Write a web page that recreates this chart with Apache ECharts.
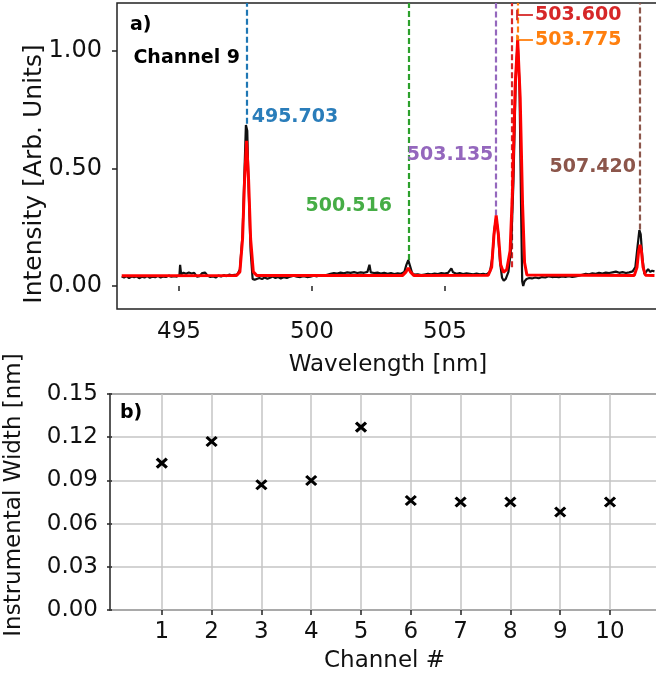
<!DOCTYPE html>
<html>
<head>
<meta charset="utf-8">
<script src="https://cdn.jsdelivr.net/npm/echarts@6/dist/echarts.min.js"></script>
<style>
html,body{margin:0;padding:0;background:#fff;}
#chart{width:656px;height:677px;}
</style>
</head>
<body>
<div id="chart"></div>
<script>
// ---------------- data ----------------
// measured spectrum (Channel 9)
const wlMeasured = [491.98,492.05,492.12,492.20,492.28,492.35,492.43,492.50,492.58,492.66,492.74,492.82,492.90,492.98,493.06,493.14,493.22,493.30,493.38,493.46,493.54,493.62,493.70,493.72,493.75,493.82,493.90,493.98,494.06,494.14,494.22,494.30,494.38,494.46,494.54,494.62,494.70,494.78,494.86,494.94,495.02,495.10,495.18,495.26,495.34,495.42,495.50,495.58,495.64,495.68,495.72,495.76,495.82,495.88,495.94,496.00,496.08,496.16,496.24,496.32,496.40,496.48,496.56,496.64,496.72,496.80,496.90,497.00,497.10,497.20,497.30,497.40,497.50,497.60,497.70,497.80,497.90,498.00,498.10,498.20,498.30,498.40,498.50,498.60,498.70,498.80,498.90,499.00,499.10,499.20,499.30,499.36,499.40,499.50,499.60,499.70,499.80,499.90,500.00,500.10,500.20,500.30,500.40,500.46,500.516,500.57,500.63,500.70,500.80,500.90,501.00,501.10,501.20,501.30,501.40,501.50,501.60,501.70,501.80,501.85,501.95,502.05,502.15,502.25,502.35,502.45,502.55,502.65,502.75,502.85,502.95,503.02,503.08,503.135,503.19,503.25,503.31,503.36,503.42,503.50,503.58,503.65,503.72,503.775,503.83,503.88,503.91,503.94,503.98,504.04,504.12,504.20,504.30,504.40,504.50,504.60,504.70,504.80,504.90,505.00,505.10,505.20,505.30,505.40,505.50,505.60,505.70,505.80,505.90,506.00,506.10,506.20,506.30,506.40,506.50,506.60,506.70,506.80,506.90,507.00,507.10,507.20,507.28,507.34,507.40,507.44,507.49,507.55,507.60,507.66,507.72,507.78,507.85];
const intMeasured = [0.040,0.036,0.042,0.034,0.040,0.037,0.041,0.033,0.039,0.036,0.042,0.035,0.040,0.037,0.043,0.036,0.040,0.038,0.044,0.039,0.042,0.040,0.046,0.090,0.050,0.056,0.052,0.057,0.053,0.056,0.040,0.042,0.055,0.057,0.044,0.038,0.041,0.036,0.044,0.040,0.046,0.042,0.048,0.045,0.047,0.048,0.070,0.220,0.500,0.685,0.660,0.420,0.150,0.030,0.026,0.030,0.034,0.030,0.036,0.031,0.035,0.040,0.034,0.038,0.032,0.037,0.034,0.040,0.044,0.040,0.038,0.042,0.038,0.040,0.044,0.041,0.046,0.043,0.048,0.052,0.055,0.053,0.057,0.054,0.058,0.056,0.059,0.055,0.058,0.056,0.060,0.090,0.058,0.055,0.057,0.053,0.056,0.052,0.055,0.051,0.054,0.052,0.060,0.090,0.110,0.085,0.055,0.048,0.050,0.046,0.049,0.052,0.050,0.053,0.051,0.055,0.053,0.056,0.075,0.058,0.052,0.055,0.051,0.054,0.052,0.050,0.053,0.050,0.052,0.049,0.060,0.120,0.240,0.290,0.230,0.100,0.035,0.022,0.030,0.060,0.160,0.450,0.900,1.040,0.850,0.300,0.020,0.000,0.020,0.030,0.034,0.032,0.036,0.033,0.038,0.036,0.041,0.038,0.040,0.037,0.041,0.039,0.042,0.038,0.041,0.044,0.048,0.052,0.050,0.054,0.052,0.056,0.053,0.057,0.055,0.058,0.061,0.056,0.059,0.055,0.058,0.062,0.080,0.160,0.238,0.220,0.120,0.050,0.046,0.072,0.060,0.065,0.062];
// fitted spectrum
const wlFit = [491.98,495.40,495.50,495.58,495.64,495.70,495.76,495.82,495.90,496.00,500.35,500.45,500.516,500.58,500.68,502.90,503.00,503.07,503.135,503.20,503.27,503.35,503.45,503.55,503.62,503.70,503.775,503.85,503.92,503.98,504.05,507.25,507.33,507.38,507.42,507.46,507.51,507.58,507.85];
const intFit = [0.044,0.045,0.060,0.200,0.450,0.618,0.450,0.200,0.060,0.045,0.045,0.060,0.077,0.060,0.045,0.046,0.080,0.220,0.300,0.220,0.090,0.058,0.070,0.150,0.400,0.850,1.045,0.800,0.350,0.100,0.047,0.045,0.080,0.150,0.175,0.150,0.080,0.046,0.045];
// identified lines
const lineCenters = [495.703, 500.516, 503.135, 503.600, 503.775, 507.420];
const lineLabels = ['495.703', '500.516', '503.135', '503.600', '503.775', '507.420'];
const lineBottoms = [0.69, 0.11, 0.30, 0.08, 1.04, 0.24];
// x tick labels of panel a
const wavelengthTicks = [495, 500, 505];
const intensityTicks = [0, 0.5, 1.0];
// panel b
const channels = [1, 2, 3, 4, 5, 6, 7, 8, 9, 10];
const instWidths = [0.102, 0.117, 0.087, 0.090, 0.127, 0.076, 0.075, 0.075, 0.068, 0.075];

// ---------------- styles ----------------
const FONT = 'DejaVu Sans';
const lineColors = ['#1f77b4', '#2ca02c', '#9467bd', '#d62728', '#ff7f0e', '#8c564b'];
const labelColors = ['#2a7dba', '#46ad46', '#9467bd', '#d62728', '#ff7f0e', '#8c564b'];
const AX = '#222';

const yTopMax = 1.204, yTopMin = -0.098;

const dashed = lineCenters.map((c, i) => [
  { coord: [c, lineBottoms[i]], lineStyle: { color: lineColors[i], type: [6, 3], width: 2.2 } },
  { coord: [c, yTopMax] }
]);
// connector "|-" for the two close lines
const connX0 = 503.755, connX1 = 504.23;
const connYs = [1.153, 1.047];
const connectors = [];
[3, 4].forEach((li, k) => {
  const y = connYs[k];
  connectors.push([{ coord: [connX0, y], lineStyle: { color: lineColors[li], type: 'solid', width: 1.8 } }, { coord: [connX1, y] }]);
  connectors.push([{ coord: [connX0, y - 0.022], lineStyle: { color: lineColors[li], type: 'solid', width: 1.8 } }, { coord: [connX0, y + 0.022] }]);
});

// annotation text placements (data coords of panel a)
const annPlace = [
  { x: 495.852, y: 0.719, pos: 'right' },
  { x: 500.032, y: 0.340, pos: 'left' },
  { x: 503.050, y: 0.557, pos: 'left' },
  { x: 504.290, y: 1.153, pos: 'right' },
  { x: 504.290, y: 1.047, pos: 'right' },
  { x: 507.300, y: 0.506, pos: 'left' }
];
const annData = lineLabels.map((t, i) => ({
  value: [annPlace[i].x, annPlace[i].y],
  label: { show: true, position: annPlace[i].pos, distance: 0, formatter: t, color: labelColors[i] }
}));
annData.push({ value: [495.504, 0.970], label: { show: true, position: 'left', distance: 0, formatter: 'Channel 9', color: '#000' } });
annData.push({ value: [492.227, 1.111], label: { show: true, position: 'right', distance: 0, formatter: 'a)', color: '#000' } });

const chart = echarts.init(document.getElementById('chart'), null, { renderer: 'canvas' });
const option = {
  animation: false,
  backgroundColor: '#fff',
  textStyle: { fontFamily: FONT },
  grid: [
    { left: 117, top: 3, right: -3, bottom: 368, show: true, borderColor: AX, borderWidth: 1.5, backgroundColor: 'transparent', outerBoundsMode: 'none', containLabel: false },
    { left: 110, top: 394, right: -3, bottom: 67, show: true, borderColor: AX, borderWidth: 1.5, backgroundColor: 'transparent', outerBoundsMode: 'none', containLabel: false }
  ],
  xAxis: [
    {
      gridIndex: 0, type: 'value', min: 492.669, max: 513.05,
      axisLine: { show: false },
      axisTick: { show: true, inside: false, length: 5, lineStyle: { color: AX, width: 1.5 }, customValues: wavelengthTicks },
      axisLabel: { show: true, margin: 12, fontSize: 23, color: '#111', fontFamily: FONT, customValues: wavelengthTicks, formatter: v => String(v) },
      splitLine: { show: false },
      name: 'Wavelength [nm]', nameLocation: 'middle', nameGap: 45,
      nameTextStyle: { fontSize: 23, color: '#111', fontFamily: FONT }
    },
    {
      gridIndex: 0, type: 'value', min: 491.84, max: 507.985, show: false,
      splitLine: { show: false }
    },
    {
      gridIndex: 1, type: 'value', min: -0.04, max: 10.984,
      axisLine: { show: false },
      axisTick: { show: true, inside: false, length: 5, lineStyle: { color: AX, width: 1.5 }, customValues: channels },
      axisLabel: { show: true, margin: 11, fontSize: 23, color: '#111', fontFamily: FONT, customValues: channels, formatter: v => String(v) },
      splitLine: { show: true, lineStyle: { color: '#c4c4c4', width: 1.5 } },
      name: 'Channel #', nameLocation: 'middle', nameGap: 40,
      nameTextStyle: { fontSize: 23, color: '#111', fontFamily: FONT }
    }
  ],
  yAxis: [
    {
      gridIndex: 0, type: 'value', min: yTopMin, max: yTopMax,
      axisLine: { show: false },
      axisTick: { show: true, inside: false, length: 5, lineStyle: { color: AX, width: 1.5 }, customValues: intensityTicks },
      axisLabel: { show: true, margin: 15, fontSize: 24, color: '#111', fontFamily: FONT, customValues: intensityTicks, formatter: v => v.toFixed(2) },
      splitLine: { show: false }
    },
    {
      gridIndex: 1, type: 'value', min: 0, max: 0.15, interval: 0.03,
      axisLine: { show: false },
      axisTick: { show: true, inside: false, length: 5, lineStyle: { color: AX, width: 1.5 } },
      axisLabel: { show: true, margin: 12, fontSize: 23, color: '#111', fontFamily: FONT, formatter: v => v.toFixed(2) },
      splitLine: { show: true, lineStyle: { color: '#c4c4c4', width: 1.5 } }
    }
  ],
  graphic: [
    { type: 'text', x: 34, y: 174, rotation: Math.PI / 2, silent: true,
      style: { text: 'Intensity [Arb. Units]', fontSize: 25, fontFamily: FONT, fill: '#111', align: 'center', verticalAlign: 'middle' } },
    { type: 'text', x: 14, y: 495, rotation: Math.PI / 2, silent: true,
      style: { text: 'Instrumental Width [nm]', fontSize: 23, fontFamily: FONT, fill: '#111', align: 'center', verticalAlign: 'middle' } }
  ],
  series: [
    {
      type: 'line', xAxisIndex: 1, yAxisIndex: 0, showSymbol: false, symbol: 'none', z: 2,
      data: wlMeasured.map((w, i) => [w, intMeasured[i]]),
      lineStyle: { color: '#111', width: 2.2 },
      markLine: { silent: true, symbol: ['none', 'none'], label: { show: false }, data: dashed.concat(connectors), z: 1 }
    },
    {
      type: 'line', xAxisIndex: 1, yAxisIndex: 0, showSymbol: false, symbol: 'none', z: 3,
      data: wlFit.map((w, i) => [w, intFit[i]]),
      lineStyle: { color: '#ff0000', width: 3 }
    },
    {
      type: 'scatter', xAxisIndex: 1, yAxisIndex: 0, symbol: 'circle', symbolSize: 0, z: 5, silent: true,
      itemStyle: { color: '#000', opacity: 1 },
      label: { fontSize: 19, fontWeight: 'bold', fontFamily: FONT, opacity: 1 },
      emphasis: { disabled: true },
      data: annData
    },
    {
      type: 'scatter', xAxisIndex: 2, yAxisIndex: 1, z: 5,
      symbol: 'path://M0,0L10,10M10,0L0,10', symbolSize: [10, 9],
      itemStyle: { color: 'none', borderColor: '#000', borderWidth: 3, opacity: 1 },
      data: channels.map((c, i) => [c, instWidths[i]])
    },
    {
      type: 'scatter', xAxisIndex: 2, yAxisIndex: 1, symbol: 'circle', symbolSize: 0, z: 5, silent: true,
      itemStyle: { color: '#000', opacity: 1 },
      emphasis: { disabled: true },
      label: { show: true, position: 'right', distance: 0, formatter: 'b)', fontSize: 19, fontWeight: 'bold', color: '#000', fontFamily: FONT, opacity: 1 },
      data: [[0.161, 0.1368]]
    }
  ]
};
chart.setOption(option);
</script>
</body>
</html>
